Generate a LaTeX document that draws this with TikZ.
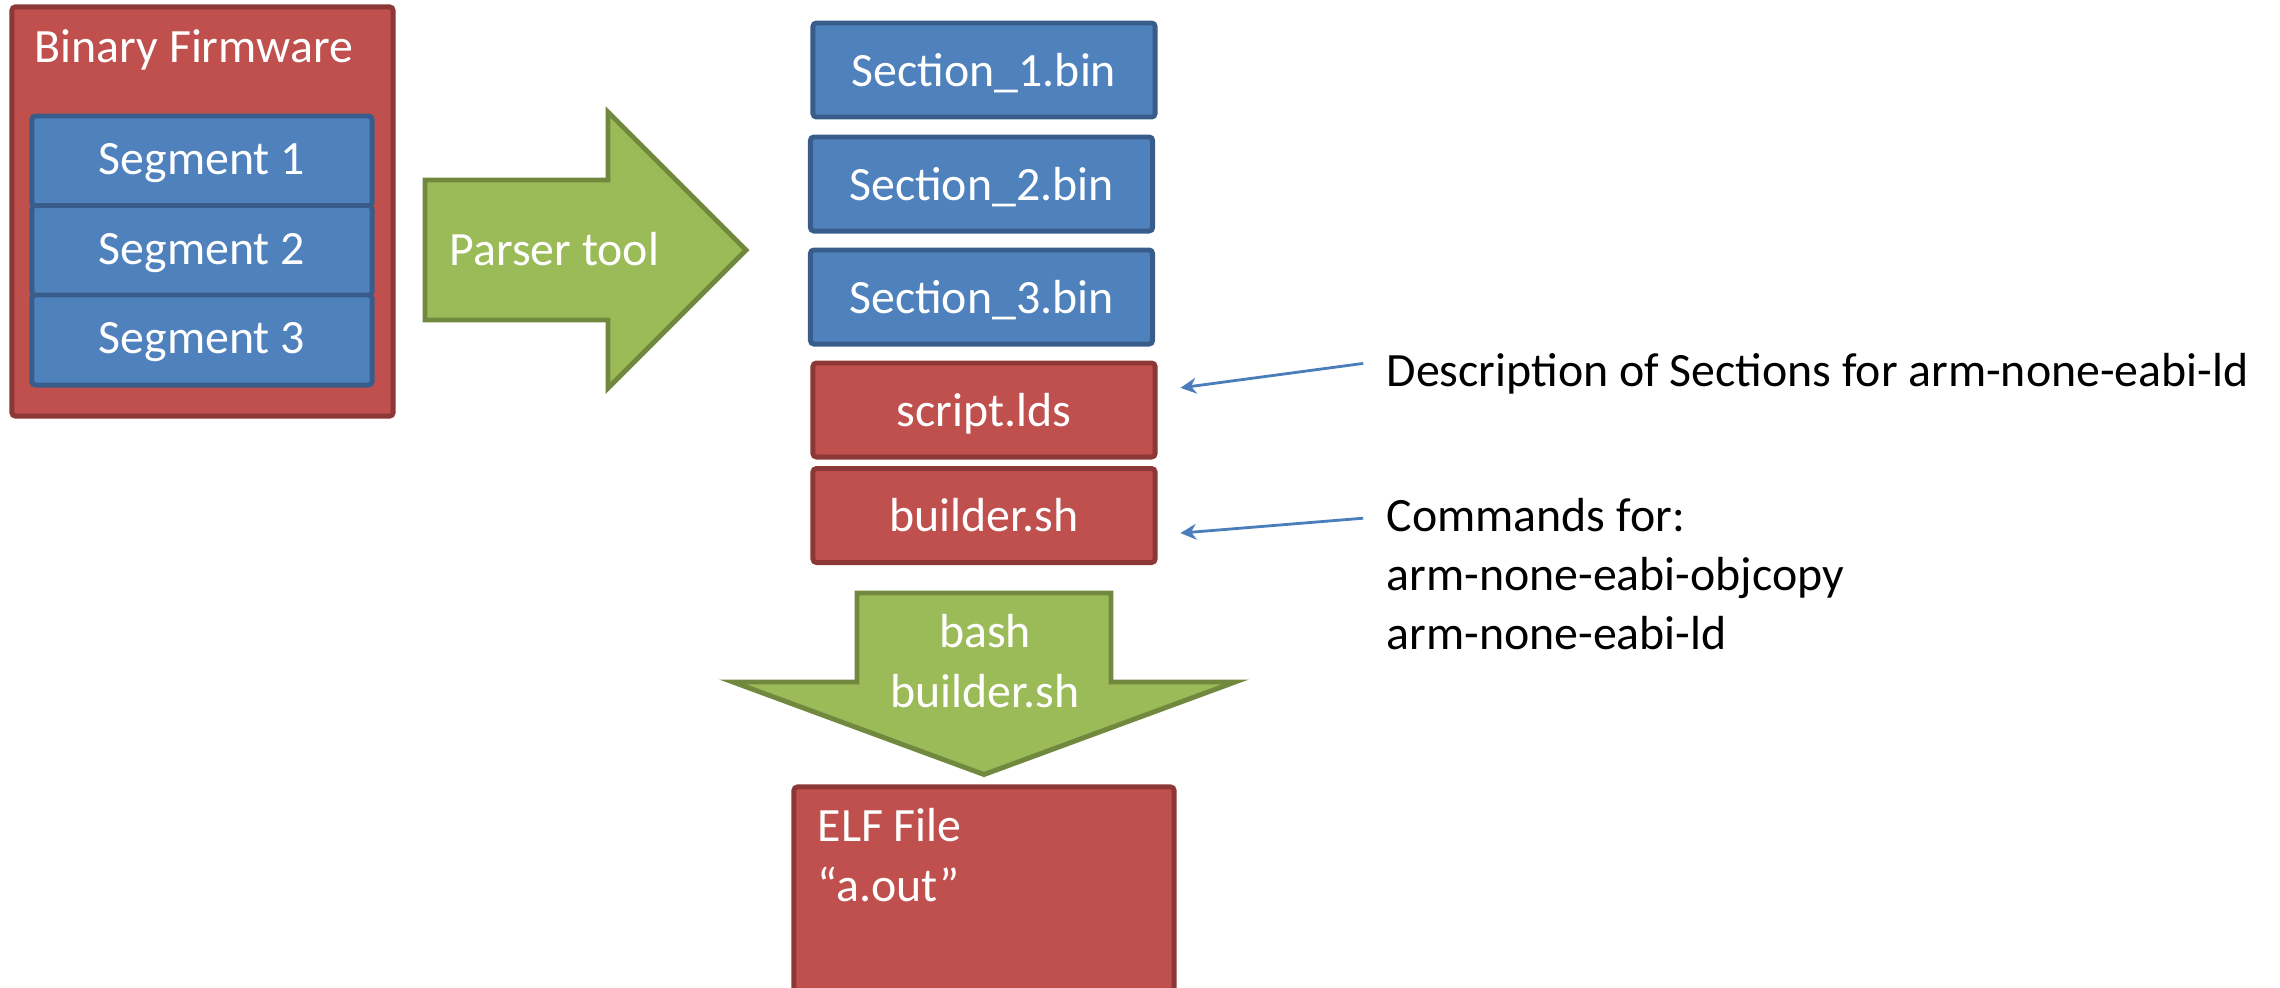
\documentclass[tikz,border=0pt]{standalone}
\usepackage{fontspec}
\setmainfont{Carlito}
\usetikzlibrary{
    arrows.meta,
    positioning
}
\definecolor{boxred}{HTML}{C0504D}
\definecolor{boxredline}{HTML}{8C3836}
\definecolor{boxblue}{HTML}{4F81BD}
\definecolor{boxblueline}{HTML}{385D8A}
\definecolor{arrowgreen}{HTML}{9BBB59}
\definecolor{arrowgreenline}{HTML}{71893F}
\definecolor{noteblue}{HTML}{4A7EBB}
\tikzset{
    % Boxes
    red box/.style={fill=boxred,draw=boxredline,line width=1.4pt,rounded corners=1pt},
    blue box/.style={fill=boxblue,draw=boxblueline,line width=1.4pt,rounded corners=1pt},
    box text/.style={text=white,text height=#1,text depth=3pt},
    box text/.default=10.8pt,
    segment box/.style={blue box,box text,minimum width=3.4cm,minimum height=0.9cm},
    section box/.style={blue box,box text=12.1pt,minimum width=3.42cm,minimum height=0.94cm},
    file box/.style={red box,box text=12.1pt,minimum width=3.42cm,minimum height=0.94cm},
    %
    % Big green arrows
    big arrow/.style={fill=arrowgreen,draw=arrowgreenline,line width=1.4pt,line join=miter},
    %
    % Texts
    inside text/.style={text=white,inner sep=0pt},
    note text/.style={text=black,inner sep=0pt},
    %
    % Arrows
    note tip/.tip={Stealth[length=4.5pt,width=4.5pt]},
    note arr/.style={-{note tip},draw=noteblue,line width=0.8pt}
}
\tikzstyle{every node}=[font=\fontsize{13.6}{16.9}\selectfont]

\begin{document}
\begin{tikzpicture}[x=0.01cm,y=-0.01cm]
        \useasboundingbox (0,0) rectangle (2280,987);
        \clip (0,0) rectangle (2280,987);

        % firmware and its segments
        \node[red box,minimum width=3.81cm,minimum height=4.09cm] (firmware) at (202.5,211.5) {};
        \node[inside text,anchor=base west] (fwtitle) at (34,62) {Binary Firmware};
        \foreach \i in {1,2,3}{
            \node[segment box] (seg\i) at (202,{161+89.5*(\i-1)}) {Segment \i};
        }

        % parser step
        \draw[big arrow] (425,180) -- (608,180) -- (608,112) -- (746,250)
            -- (608,388) -- (608,320) -- (425,320) -- cycle;
        \node[inside text,anchor=base west] (parser) at (449,265) {Parser tool};

        % files written by the parser
        \foreach \i/\x/\y in {1/984/70, 2/981.5/184, 3/981.5/297}{
            \node[section box] (sec\i) at (\x,\y) {Section\_\i.bin};
        }
        \node[file box] (script) at (984,410) {script.lds};
        \node[file box] (builder) at (984,515.5) {builder.sh};

        % notes
        \node[note text,anchor=base west] (desc) at (1386,386)
            {Description of Sections for arm-none-eabi-ld};
        \node[note text,anchor=west,align=left] (cmds) at (1386,574)
            {Commands for:\\arm-none-eabi-objcopy\\arm-none-eabi-ld};
        \draw[note arr] ([xshift=-6.5pt,yshift=2.8pt]desc.west) -- ([xshift=6.5pt,yshift=6.3pt]script.east);
        \draw[note arr] ([xshift=-6.5pt,yshift=-6pt]cmds.north west) -- ([xshift=6.5pt,yshift=-5pt]builder.east);

        % build step
        \draw[big arrow] (857,593) -- (1111,593) -- (1111,682) -- (1235,682)
            -- (984,774.5) -- (733,682) -- (857,682) -- cycle;
        \node[inside text,align=center] (bash) at (985,661) {bash\\builder.sh};

        % result
        \node[red box,minimum width=3.8cm,minimum height=2.4cm] (elf) at (984,907) {};
        \node[inside text,anchor=west,align=left] (elftext) at (817,855) {ELF File\\“a.out”};
\end{tikzpicture}
\end{document}
